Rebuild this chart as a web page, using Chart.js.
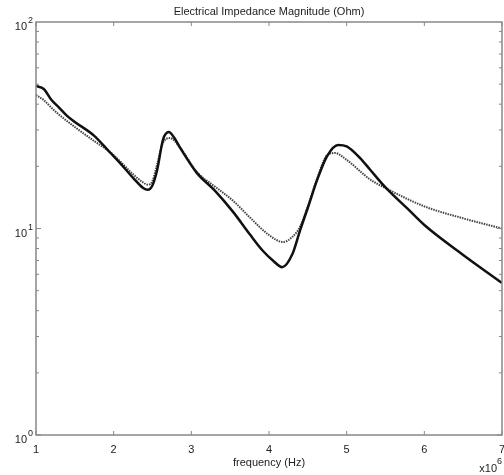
<!DOCTYPE html>
<html>
<head>
<meta charset="utf-8">
<script src="https://cdn.jsdelivr.net/npm/chart.js@4/dist/chart.umd.min.js"></script>
<style>
  body { margin: 0; background: #fff; }
  #wrap { width: 504px; height: 475px; }
</style>
</head>
<body>
<div id="wrap"><canvas id="impedanceChart"></canvas></div>
<script>
// frequency in units of 1e6 Hz
var freqSolid = [1.0, 1.1, 1.2, 1.3, 1.4, 1.5, 1.75, 1.95, 2.08, 2.25, 2.38, 2.44, 2.5, 2.56, 2.635, 2.71, 2.78, 2.85, 3.07, 3.3, 3.54, 3.75, 3.92, 4.05, 4.17, 4.3, 4.4, 4.5, 4.62, 4.75, 4.89, 5.0, 5.17, 5.3, 5.5, 5.8, 6.0, 6.5, 7.0];
var impSolid = [49, 47.4, 41.9, 38.4, 35.1, 32.8, 28.1, 23.4, 20.8, 17.6, 15.7, 15.4, 16.2, 19.2, 26.9, 29.3, 27.5, 24.8, 18.6, 15.3, 12.0, 9.4, 7.8, 7.0, 6.5, 7.5, 9.8, 12.6, 17.2, 22.5, 25.4, 25.0, 22.0, 19.3, 15.8, 12.3, 10.4, 7.45, 5.45];

var freqDotted = [1.0, 1.1, 1.2, 1.3, 1.5, 1.75, 1.95, 2.08, 2.25, 2.38, 2.44, 2.5, 2.56, 2.635, 2.725, 2.85, 3.07, 3.3, 3.54, 3.755, 4.0, 4.18, 4.3, 4.4, 4.5, 4.62, 4.75, 4.85, 5.0, 5.3, 5.5, 6.0, 6.5, 7.0];
var impDotted = [44.3, 41.9, 38.4, 35.5, 31.0, 26.5, 23.5, 21.2, 18.3, 16.7, 16.3, 17.0, 20.5, 26.0, 27.4, 24.8, 18.8, 16.0, 13.6, 11.3, 9.3, 8.6, 9.1, 10.2, 12.8, 17.5, 22.7, 23.2, 21.5, 17.3, 15.7, 12.8, 11.2, 10.0];

var xTicks = [1, 2, 3, 4, 5, 6, 7];
var decades = [1, 10, 100];
var exponents = ['0', '1', '2'];
var titleText = 'Electrical Impedance Magnitude (Ohm)';
var xTitle = 'frequency (Hz)';

function toPoints(xs, ys) {
    return xs.map(function (x, i) { return {x: x, y: ys[i]}; });
}

var fontFamily = '"Liberation Sans", Arial, sans-serif';
var textColor = '#222';
var frameColor = '#888';

// box, inward ticks, title, decade exponents and the x10^6 note
var framePlugin = {
    id: 'frame',
    afterDatasetsDraw: function (chart) {
        var ctx = chart.ctx;
        var a = chart.chartArea;
        var xs = chart.scales.x;
        var ys = chart.scales.y;
        ctx.save();
        ctx.strokeStyle = frameColor;
        ctx.lineWidth = 1.5;
        ctx.strokeRect(a.left, a.top, a.right - a.left, a.bottom - a.top);

        ctx.lineWidth = 1;
        ctx.beginPath();
        xTicks.forEach(function (v) {
            var px = xs.getPixelForValue(v);
            ctx.moveTo(px, a.bottom); ctx.lineTo(px, a.bottom - 4);
            ctx.moveTo(px, a.top); ctx.lineTo(px, a.top + 4);
        });
        for (var d = 0; d < decades.length - 1; d++) {
            for (var m = 1; m <= 9; m++) {
                var py = ys.getPixelForValue(decades[d] * m);
                var len = m === 1 ? 5 : 3;
                ctx.moveTo(a.left, py); ctx.lineTo(a.left + len, py);
                ctx.moveTo(a.right, py); ctx.lineTo(a.right - len, py);
            }
        }
        ctx.stroke();

        ctx.fillStyle = textColor;
        ctx.font = '11px ' + fontFamily;
        ctx.textAlign = 'center';
        ctx.textBaseline = 'middle';
        ctx.fillText(titleText, (a.left + a.right) / 2, 12);

        ctx.textAlign = 'right';
        ctx.fillText('x10', 497, 469);

        ctx.font = '9px ' + fontFamily;
        ctx.textAlign = 'left';
        ctx.fillText('6', 497, 462);
        decades.forEach(function (v, i) {
            var py = ys.getPixelForValue(v);
            ctx.fillText(exponents[i], 28, py - 1);
        });
        ctx.restore();
    }
};

var chart = new Chart(document.getElementById('impedanceChart'), {
    type: 'line',
    data: {
        datasets: [{
            label: 'solid',
            data: toPoints(freqSolid, impSolid),
            borderColor: '#111',
            borderWidth: 2.5,
            pointRadius: 0,
            cubicInterpolationMode: 'monotone',
            fill: false
        }, {
            label: 'dotted',
            data: toPoints(freqDotted, impDotted),
            borderColor: '#444',
            borderWidth: 2,
            borderDash: [1.5, 1],
            pointRadius: 0,
            cubicInterpolationMode: 'monotone',
            fill: false
        }]
    },
    options: {
        responsive: true,
        maintainAspectRatio: false,
        animation: false,
        layout: {
            padding: {top: 22, right: 2, left: 0, bottom: 0}
        },
        plugins: {
            legend: {display: false},
            tooltip: {enabled: false},
            title: {display: false}
        },
        scales: {
            x: {
                type: 'linear',
                min: 1,
                max: 7,
                grid: {display: false, drawTicks: false},
                border: {display: false},
                ticks: {
                    stepSize: 1,
                    padding: 8,
                    color: textColor,
                    font: {family: fontFamily, size: 11},
                    maxRotation: 0
                },
                title: {
                    display: true,
                    text: xTitle,
                    color: textColor,
                    font: {family: fontFamily, size: 11},
                    padding: {top: 0, bottom: 5}
                },
                afterFit: function (scale) {
                    scale.height = 40;
                    scale.paddingLeft = 0;
                    scale.paddingRight = 0;
                }
            },
            y: {
                type: 'logarithmic',
                min: 1,
                max: 100,
                grid: {display: false, drawTicks: false},
                border: {display: false},
                ticks: {
                    autoSkip: false,
                    padding: 9,
                    labelOffset: 5,
                    color: textColor,
                    font: {family: fontFamily, size: 11},
                    callback: function (value) {
                        return decades.indexOf(value) >= 0 ? '10' : '';
                    }
                },
                afterFit: function (scale) {
                    scale.width = 36;
                    scale.paddingTop = 0;
                    scale.paddingBottom = 0;
                }
            }
        }
    },
    plugins: [framePlugin]
});
</script>
</body>
</html>
